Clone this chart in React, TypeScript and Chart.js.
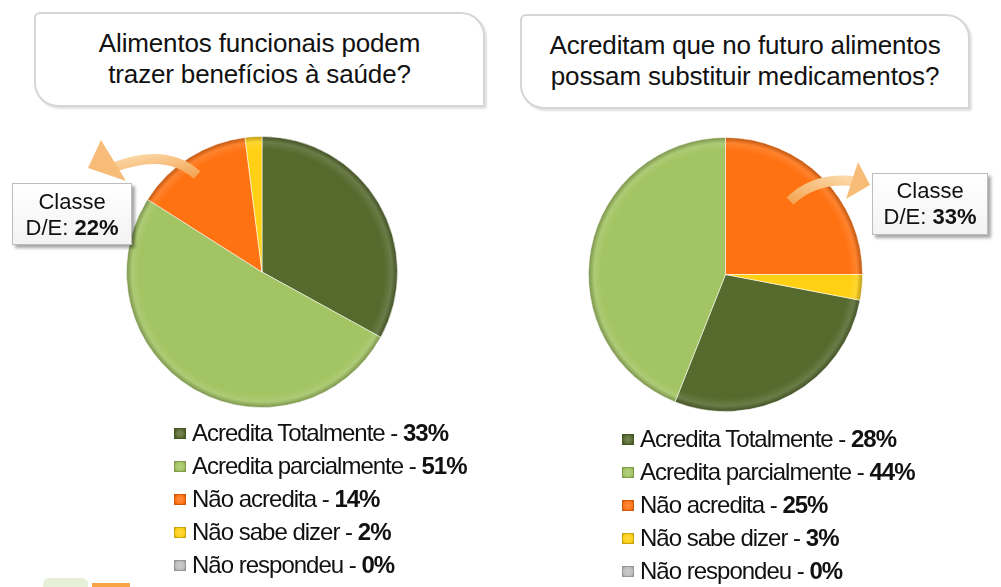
import React, { useEffect, useRef } from "react";
import { Chart, registerables } from "chart.js";

Chart.register(...registerables);

const categories = [
  "Acredita Totalmente",
  "Acredita parcialmente",
  "Não acredita",
  "Não sabe dizer",
  "Não respondeu",
];
const colors = ["#566A2E", "#A2C462", "#FF7212", "#FFD014", "#BDBDBD"];

const leftValues = [33, 51, 14, 2, 0];
const rightValues = [28, 44, 25, 3, 0];

const leftTitle = ["Alimentos funcionais podem", "trazer benefícios à saúde?"];
const rightTitle = ["Acreditam que no futuro alimentos", "possam substituir medicamentos?"];

const leftCallout = { line1: "Classe", prefix: "D/E: ", value: "22%" };
const rightCallout = { line1: "Classe", prefix: "D/E: ", value: "33%" };

const FONT = '"Liberation Sans", Arial, Helvetica, sans-serif';

function shade(hex: string, amt: number) {
  const n = parseInt(hex.slice(1), 16);
  let r = (n >> 16) & 255, g = (n >> 8) & 255, b = n & 255;
  const f = (c: number) =>
    Math.max(0, Math.min(255, Math.round(amt >= 0 ? c + (255 - c) * amt : c * (1 + amt))));
  r = f(r); g = f(g); b = f(b);
  return `rgb(${r},${g},${b})`;
}

function PieChart({ values, rotation, left, top, size }: { values: number[]; rotation: number; left: number; top: number; size: number }) {
  const ref = useRef<HTMLCanvasElement | null>(null);
  useEffect(() => {
    if (!ref.current) return;
    const chart = new Chart(ref.current, {
      type: "pie",
      data: {
        labels: categories,
        datasets: [
          {
            data: values,
            backgroundColor: (ctx: any) => {
              const base = colors[ctx.dataIndex];
              const c = ctx.chart;
              const area = c.chartArea;
              if (!area) return base;
              const cx = (area.left + area.right) / 2;
              const cy = (area.top + area.bottom) / 2;
              const r = Math.min(area.right - area.left, area.bottom - area.top) / 2;
              const g = c.ctx.createRadialGradient(cx, cy, 0, cx, cy, r);
              g.addColorStop(0, base);
              g.addColorStop(0.9, base);
              g.addColorStop(0.955, shade(base, 0.12));
              g.addColorStop(1, shade(base, -0.28));
              return g;
            },
            borderColor: "rgba(255,255,255,0.55)",
            borderWidth: 1,
          },
        ],
      },
      options: {
        responsive: false,
        animation: false,
        rotation,
        layout: { padding: 0 },
        plugins: { legend: { display: false }, tooltip: { enabled: false } },
      },
    });
    return () => chart.destroy();
  }, []);
  return (
    <canvas
      ref={ref}
      width={size}
      height={size}
      style={{ position: "absolute", left, top, width: size, height: size }}
    />
  );
}

function TitleBox({ lines, left, top, width, height }: { lines: string[]; left: number; top: number; width: number; height: number }) {
  return (
    <div
      style={{
        position: "absolute",
        left,
        top,
        width,
        height,
        boxSizing: "border-box",
        border: "2px solid #D6D6D6",
        borderRadius: "6px 24px 2px 24px",
        boxShadow: "2px 2px 2px rgba(0,0,0,0.12)",
        background: "#fff",
      }}
    >
      <div
        style={{
          position: "absolute",
          left: 0,
          right: 0,
          top: 13.5,
          textAlign: "center",
          fontFamily: FONT,
          fontSize: 26,
          lineHeight: "31px",
          letterSpacing: "-0.15px",
          color: "#111",
          whiteSpace: "nowrap",
        }}
      >
        {lines.map((l, i) => (
          <div key={i}>{l}</div>
        ))}
      </div>
    </div>
  );
}

function Callout({ c, left, top, width, height, textTop }: { c: typeof leftCallout; left: number; top: number; width: number; height: number; textTop: number }) {
  return (
    <div
      style={{
        position: "absolute",
        left,
        top,
        width,
        height,
        boxSizing: "border-box",
        border: "1px solid #BDBDBD",
        background: "linear-gradient(#ffffff, #f3f3f3)",
        boxShadow: "3px 3px 3px rgba(0,0,0,0.35)",
        fontFamily: FONT,
        fontSize: 22,
        lineHeight: "26px",
        textAlign: "center",
        color: "#111",
      }}
    >
      <div style={{ position: "absolute", left: 0, right: 0, top: textTop }}>
        <div>{c.line1}</div>
        <div>
          {c.prefix}
          <b>{c.value}</b>
        </div>
      </div>
    </div>
  );
}

function Legend({ values, left, top }: { values: number[]; left: number; top: number }) {
  return (
    <div style={{ position: "absolute", left, top, fontFamily: FONT, fontSize: 24, lineHeight: "33px", letterSpacing: "-1px", color: "#111", whiteSpace: "nowrap" }}>
      {categories.map((cat, i) => (
        <div key={i} style={{ position: "relative", height: 33 }}>
          <span
            style={{
              position: "absolute",
              left: 0,
              top: 12,
              width: 12,
              height: 11,
              boxSizing: "border-box",
              background: `radial-gradient(circle, ${shade(colors[i], 0.15)} 30%, ${colors[i]} 70%, ${shade(colors[i], -0.25)} 100%)`,
              border: `1px solid ${shade(colors[i], -0.2)}`,
            }}
          />
          <span style={{ position: "absolute", left: 18, top: 0 }}>
            {cat} - <b>{values[i]}%</b>
          </span>
        </div>
      ))}
    </div>
  );
}

function Arrows() {
  return (
    <svg width={1001} height={587} style={{ position: "absolute", left: 0, top: 0, pointerEvents: "none" }}>
      <defs>
        <linearGradient id="ga" x1="0" y1="0" x2="1" y2="1">
          <stop offset="0" stopColor="#FBD7A4" />
          <stop offset="1" stopColor="#F4A656" />
        </linearGradient>
        <linearGradient id="gb" x1="0" y1="1" x2="1" y2="0">
          <stop offset="0" stopColor="#F4A656" />
          <stop offset="1" stopColor="#FBD7A4" />
        </linearGradient>
      </defs>
      <path d="M 197 175 Q 166 147 112 168" fill="none" stroke="url(#ga)" strokeWidth={10} />
      <polygon points="101,140 88,168 126,181" fill="#F7BC78" />
      <path d="M 790 201 Q 815 177 853 181" fill="none" stroke="url(#gb)" strokeWidth={10} />
      <polygon points="870,185 858,162 846,199" fill="#F7BC78" />
    </svg>
  );
}

export default function App() {
  return (
    <div style={{ position: "absolute", left: 0, top: 0, width: 1001, height: 587, background: "#fff", overflow: "hidden" }}>
      <TitleBox lines={leftTitle} left={34} top={12} width={451} height={95} />
      <TitleBox lines={rightTitle} left={520} top={14} width={450} height={95} />
      <PieChart values={leftValues} rotation={0} left={126} top={136} size={272} />
      <PieChart values={rightValues} rotation={100.8} left={588} top={137} size={275} />
      <Arrows />
      <Callout c={leftCallout} left={12} top={183} width={120} height={62} textTop={5} />
      <Callout c={rightCallout} left={872} top={173} width={116} height={62} textTop={4} />
      <Legend values={leftValues} left={174} top={416} />
      <Legend values={rightValues} left={622} top={422} />
      <div style={{ position: "absolute", left: 43, top: 578, width: 45, height: 12, background: "#E6EFD8", borderRadius: "6px 6px 0 0" }} />
      <div style={{ position: "absolute", left: 92, top: 583, width: 38, height: 8, background: "#F6A245" }} />
    </div>
  );
}
